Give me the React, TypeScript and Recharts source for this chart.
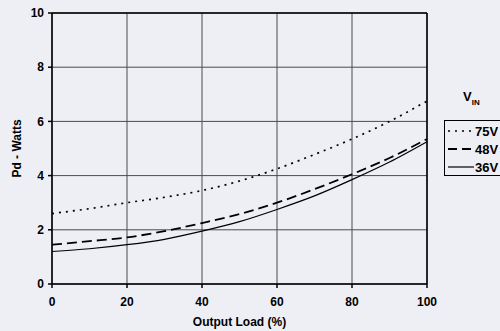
import { LineChart, Line, XAxis, YAxis, CartesianGrid, ReferenceLine } from "recharts";

const loads = [0, 10, 20, 30, 40, 50, 60, 70, 80, 90, 100];
const v75 = [2.6, 2.78, 3.0, 3.2, 3.45, 3.8, 4.25, 4.78, 5.35, 6.0, 6.75];
const v48 = [1.45, 1.58, 1.72, 1.95, 2.25, 2.58, 3.0, 3.5, 4.05, 4.65, 5.35];
const v36 = [1.2, 1.3, 1.45, 1.65, 1.95, 2.3, 2.75, 3.25, 3.85, 4.5, 5.25];

const xTicks = [0, 20, 40, 60, 80, 100];
const yTicks = [0, 2, 4, 6, 8, 10];

const seriesNames = ["75V", "48V", "36V"];
const seriesDash = ["2 5", "10 5", ""];
const seriesWidth = [1.7, 1.8, 1.2];

const data = loads.map((x, i) => ({ load: x, v75: v75[i], v48: v48[i], v36: v36[i] }));

const FONT = "'Liberation Sans', Arial, sans-serif";
const tickStyle = { fill: "#000", fontSize: 12, fontWeight: 700, fontFamily: FONT };

function LegendBox() {
  return (
    <div style={{ position: "absolute", left: 444, top: 89, fontFamily: FONT, fontWeight: 700, color: "#000" }}>
      <div style={{ marginLeft: 19, fontSize: 13, height: 31 }}>
        V<sub style={{ fontSize: 8 }}>IN</sub>
      </div>
      <div style={{ border: "1px solid #000", borderRight: "none", width: 70, height: 53, paddingTop: 1 }}>
        {seriesNames.map((name, i) => (
          <div key={name} style={{ display: "flex", alignItems: "center", height: 18 }}>
            <svg width={28} height={6} style={{ marginLeft: 2 }}>
              <line x1={1} y1={3} x2={27} y2={3} stroke="#000" strokeWidth={seriesWidth[i]} strokeDasharray={i === 1 ? "9 5" : seriesDash[i]} />
            </svg>
            <span style={{ fontSize: 13 }}>{name}</span>
          </div>
        ))}
      </div>
    </div>
  );
}

export default function App() {
  return (
    <div style={{ position: "relative", width: 500, height: 331, background: "#eeeff4", overflow: "hidden" }}>
      <style>{"body{margin:0}"}</style>
      <LineChart width={500} height={331} data={data} margin={{ top: 13, right: 73, bottom: 0, left: 0 }}>
        <CartesianGrid stroke="#4a4a4a" strokeWidth={1} horizontal vertical />
        <XAxis
          dataKey="load"
          type="number"
          domain={[0, 100]}
          ticks={xTicks}
          height={47}
          stroke="#000"
          strokeWidth={1.5}
          tickSize={4}
          tickMargin={9}
          tick={tickStyle}
          label={{ value: "Output Load (%)", position: "insideBottom", offset: 5, style: { ...tickStyle, fill: "#000" } }}
        />
        <YAxis
          type="number"
          domain={[0, 10]}
          ticks={yTicks}
          width={52}
          stroke="#000"
          strokeWidth={1.5}
          tickSize={4}
          tickMargin={4}
          tick={tickStyle}
          label={{ value: "Pd - Watts", angle: -90, position: "center", dx: -9, style: { ...tickStyle, fill: "#000" } }}
        />
        <ReferenceLine y={10} stroke="#000" strokeWidth={1.5} />
        <ReferenceLine x={100} stroke="#000" strokeWidth={1.5} />
        <Line type="monotone" dataKey="v75" stroke="#000" strokeWidth={seriesWidth[0]} strokeDasharray={seriesDash[0]} dot={false} isAnimationActive={false} />
        <Line type="monotone" dataKey="v48" stroke="#000" strokeWidth={seriesWidth[1]} strokeDasharray={seriesDash[1]} dot={false} isAnimationActive={false} />
        <Line type="monotone" dataKey="v36" stroke="#000" strokeWidth={seriesWidth[2]} dot={false} isAnimationActive={false} />
      </LineChart>
      <LegendBox />
    </div>
  );
}
